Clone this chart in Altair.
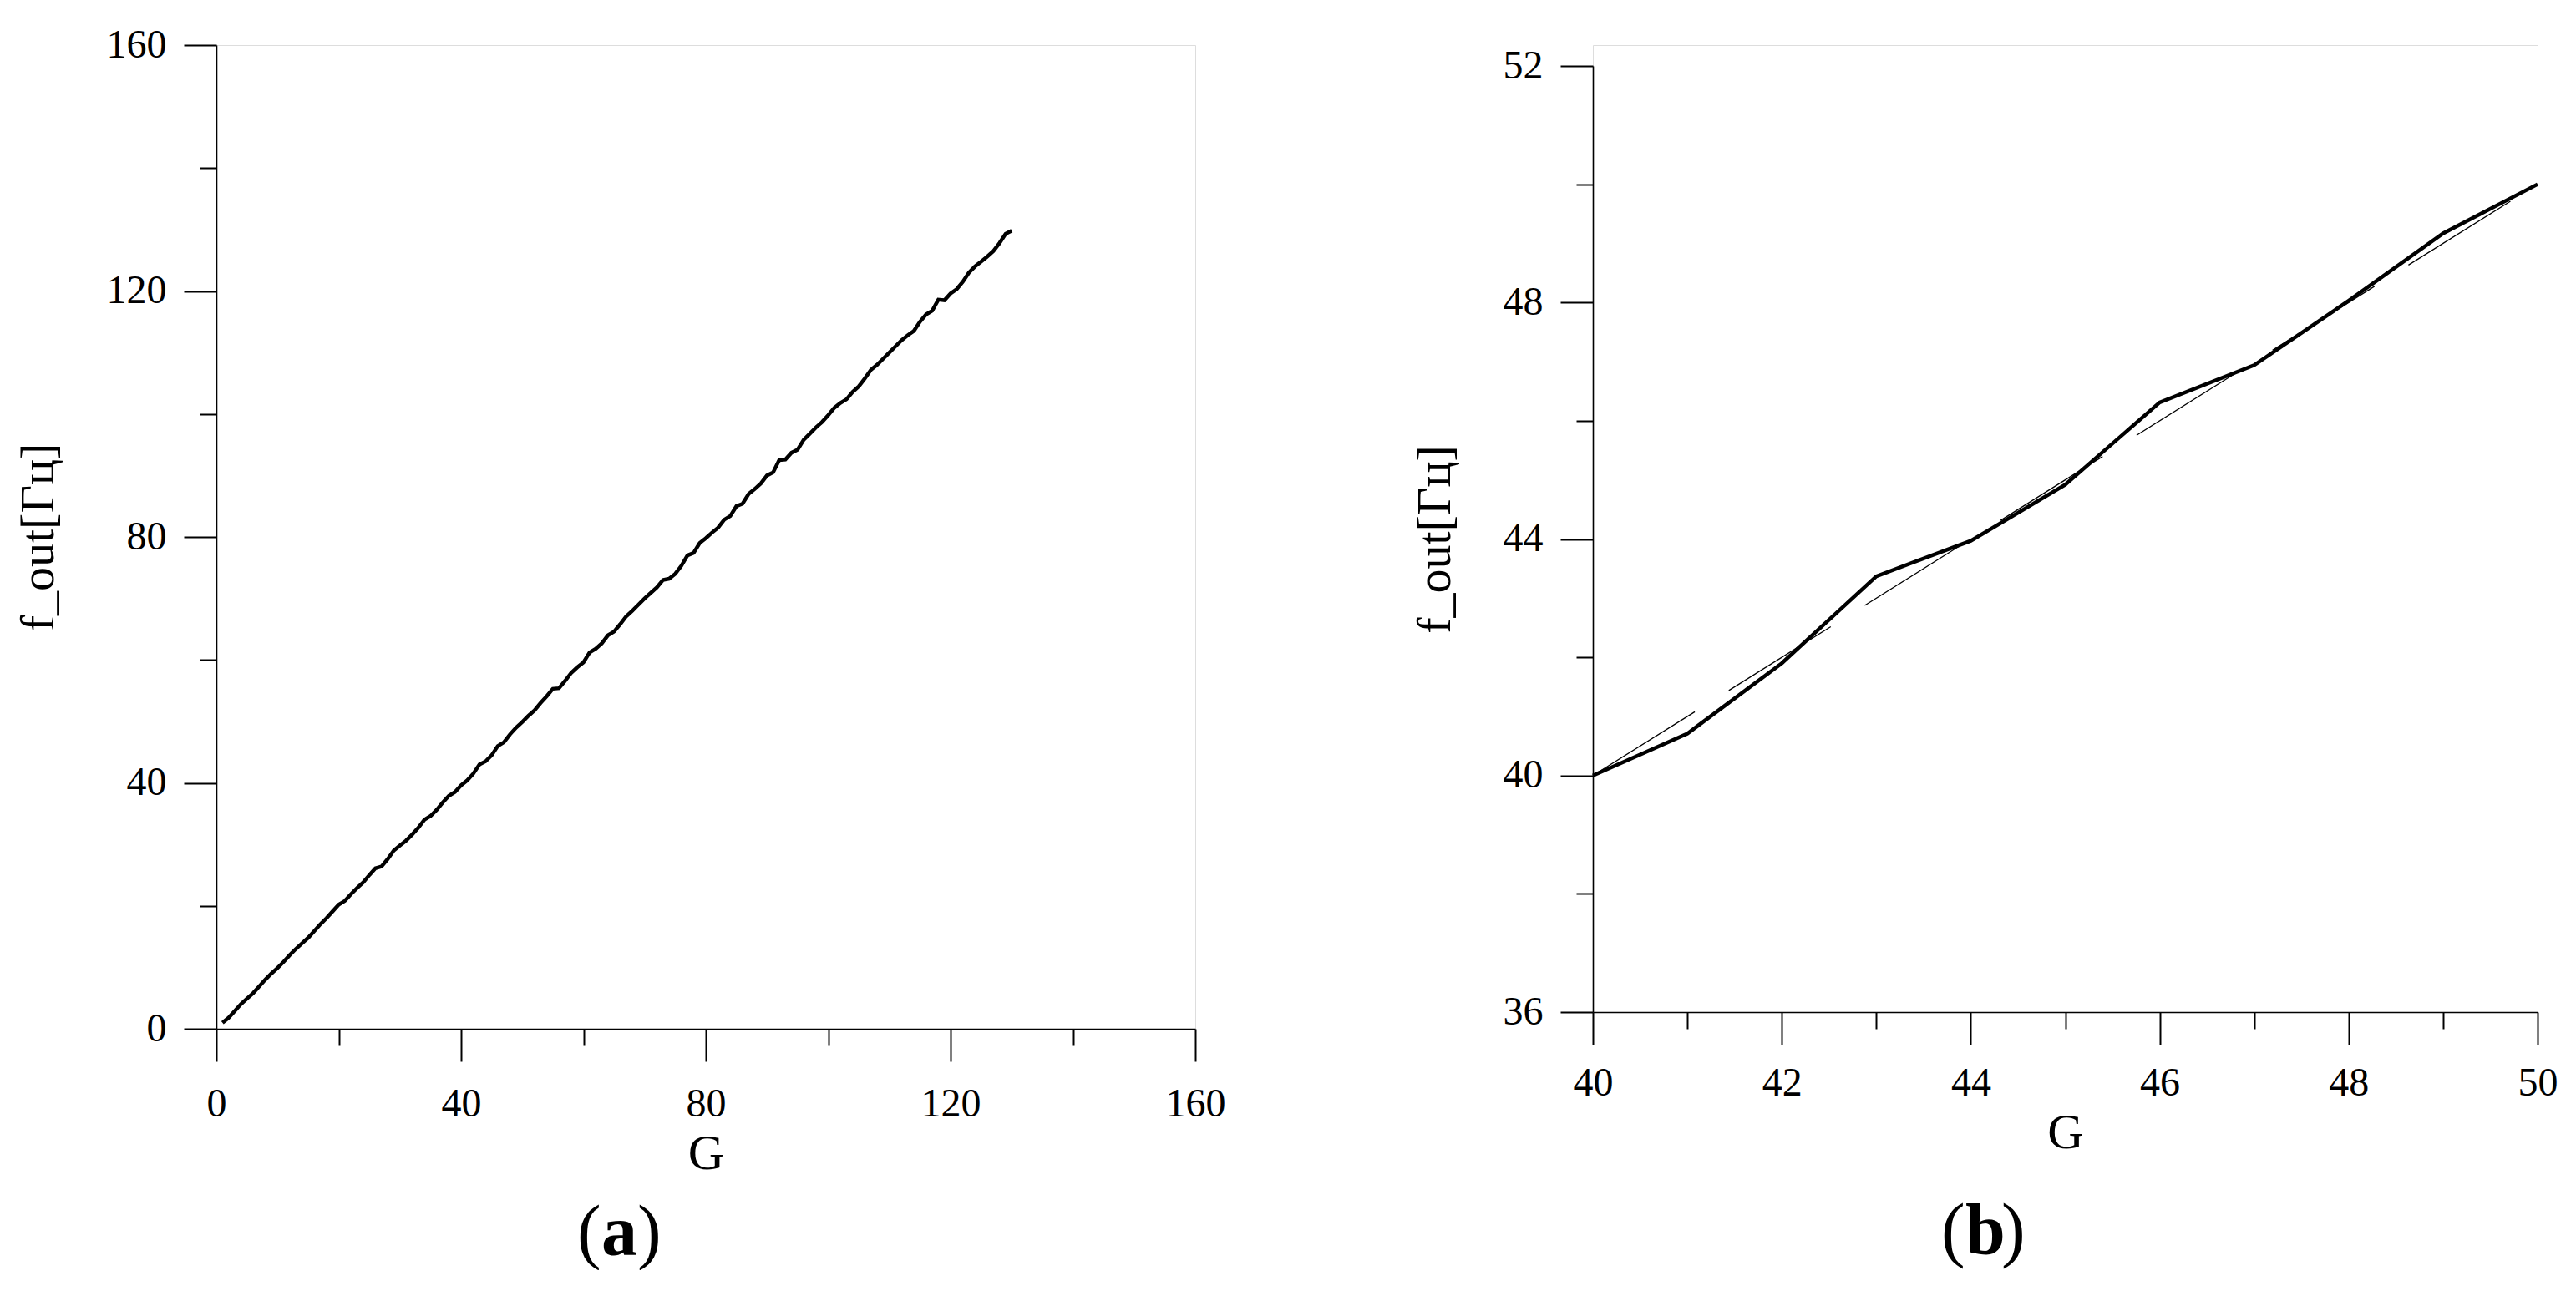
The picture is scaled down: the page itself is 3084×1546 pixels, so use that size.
import altair as alt
import pandas as pd

# ---------------- data ----------------
# panel (a): G = 1..130, measured output frequency
g_a = list(range(1, 131))
f_a = [
    1.0, 1.8, 2.9, 4.0, 4.9, 5.8, 6.9, 8.0, 9.0, 9.9,
    10.9, 12.0, 13.0, 13.9, 14.8, 15.9, 17.0, 18.0, 19.1, 20.2,
    20.8, 21.9, 22.9, 23.8, 25.0, 26.1, 26.4, 27.6, 29.0, 29.8,
    30.6, 31.6, 32.7, 34.0, 34.6, 35.6, 36.8, 37.9, 38.5, 39.6,
    40.4, 41.5, 43.0, 43.5, 44.5, 46.0, 46.6, 47.9, 49.0, 49.9,
    50.9, 51.8, 53.0, 54.1, 55.3, 55.4, 56.6, 57.9, 58.8, 59.6,
    61.2, 61.8, 62.7, 64.0, 64.6, 65.8, 67.1, 68.0, 69.0, 70.0,
    70.9, 71.8, 73.0, 73.2, 74.0, 75.3, 77.0, 77.4, 79.0, 79.8,
    80.7, 81.5, 82.8, 83.4, 85.0, 85.4, 87.0, 87.8, 88.7, 90.0,
    90.5, 92.5, 92.6, 93.7, 94.2, 95.8, 96.8, 97.8, 98.7, 99.8,
    101.0, 101.8, 102.4, 103.6, 104.5, 105.8, 107.2, 108.0, 109.0, 110.0,
    111.0, 112.0, 112.8, 113.5, 115.0, 116.2, 116.8, 118.6, 118.5, 119.6,
    120.3, 121.5, 123.0, 124.0, 124.8, 125.6, 126.5, 127.8, 129.3, 129.8,
]

# panel (b): zoom on G = 40..50
g_b = [40, 41, 42, 43, 44, 45, 46, 47, 48, 49, 50]
f_b = [40.0, 40.71, 41.9, 43.37, 43.97, 44.92, 46.31, 46.94, 48.03, 49.17, 50.0]

# ideal reference line (dashed) in panel (b)
ref_g = [40, 50]
ref_f = [40, 50]

x_title = "G"
y_title = "f_out[Гц]"
panel_labels = [("(", "a", ")"), ("(", "b", ")")]

FONT = "Liberation Serif"
BLACK = "#000000"


def make_axis(values, major_mod, title, label_pad, title_pad, title_size):
    cond = f"datum.value % {major_mod} === 0"
    return alt.Axis(
        values=values,
        labelExpr=f"{cond} ? datum.label : ''",
        tickSize={"condition": {"test": cond, "value": 39}, "value": 20},
        tickWidth=2,
        tickColor=BLACK,
        domainColor=BLACK,
        domainWidth=1.6,
        grid=False,
        labelFont=FONT,
        labelFontSize=48,
        labelColor=BLACK,
        labelPadding=label_pad,
        labelFlush=False,
        labelOverlap=False,
        title=title,
        titleFont=FONT,
        titleFontSize=title_size,
        titleFontWeight="normal",
        titleColor=BLACK,
        titlePadding=title_pad,
    )


def panel_label(parts, x0, y0):
    layers = []
    offs = [0, 29, 72]
    weights = ["normal", "bold", "normal"]
    for p, dx, w in zip(parts, offs, weights):
        layers.append(
            alt.Chart(alt.Data(values=[{}]))
            .mark_text(font=FONT, fontSize=86, fontWeight=w, align="left",
                       baseline="alphabetic", color=BLACK)
            .encode(x=alt.value(x0 + dx), y=alt.value(y0), text=alt.value(p))
        )
    return layers


# ---------------- panel (a) ----------------
df_a = pd.DataFrame({"G": g_a, "f": f_a})
xa = alt.X("G:Q", scale=alt.Scale(domain=[0, 160], nice=False, zero=False),
           axis=make_axis(list(range(0, 161, 20)), 40, x_title, 27, 6, 60))
ya = alt.Y("f:Q", scale=alt.Scale(domain=[0, 160], nice=False, zero=False),
           axis=make_axis(list(range(0, 161, 20)), 40, y_title, 21, 52, 58))
line_a = alt.Chart(df_a).mark_line(color=BLACK, strokeWidth=4.5).encode(x=xa, y=ya)
chart_a = alt.layer(line_a, *panel_label(panel_labels[0], 432, 1449)).properties(
    width=1172, height=1178)

# ---------------- panel (b) ----------------
df_b = pd.DataFrame({"G": g_b, "f": f_b})
df_ref = pd.DataFrame({"G": ref_g, "f": ref_f})
xb = alt.X("G:Q", scale=alt.Scale(domain=[40, 50], nice=False, zero=False),
           axis=make_axis(list(range(40, 51, 1)), 2, x_title, 22, 6, 60))
yb = alt.Y("f:Q", scale=alt.Scale(domain=[36, 52], nice=False, zero=False, range=[1158, 25]),
           axis=make_axis(list(range(36, 53, 2)), 4, y_title, 21, 52, 58))
ref_b = alt.Chart(df_ref).mark_line(color=BLACK, strokeWidth=1.3,
                                    strokeDash=[144, 48]).encode(x=xb, y=yb)
line_b = alt.Chart(df_b).mark_line(color=BLACK, strokeWidth=4.5).encode(x=xb, y=yb)
chart_b = alt.layer(ref_b, line_b, *panel_label(panel_labels[1], 417, 1447)).properties(
    width=1131, height=1158)

chart = (
    alt.hconcat(chart_a, chart_b, spacing=220)
    .properties(padding={"left": 8, "top": 21, "right": 0, "bottom": 0})
    .configure_view(stroke=None)
    .configure(background="white")
)

chart.save("out.html", embed_options={"renderer": "svg", "actions": False})
